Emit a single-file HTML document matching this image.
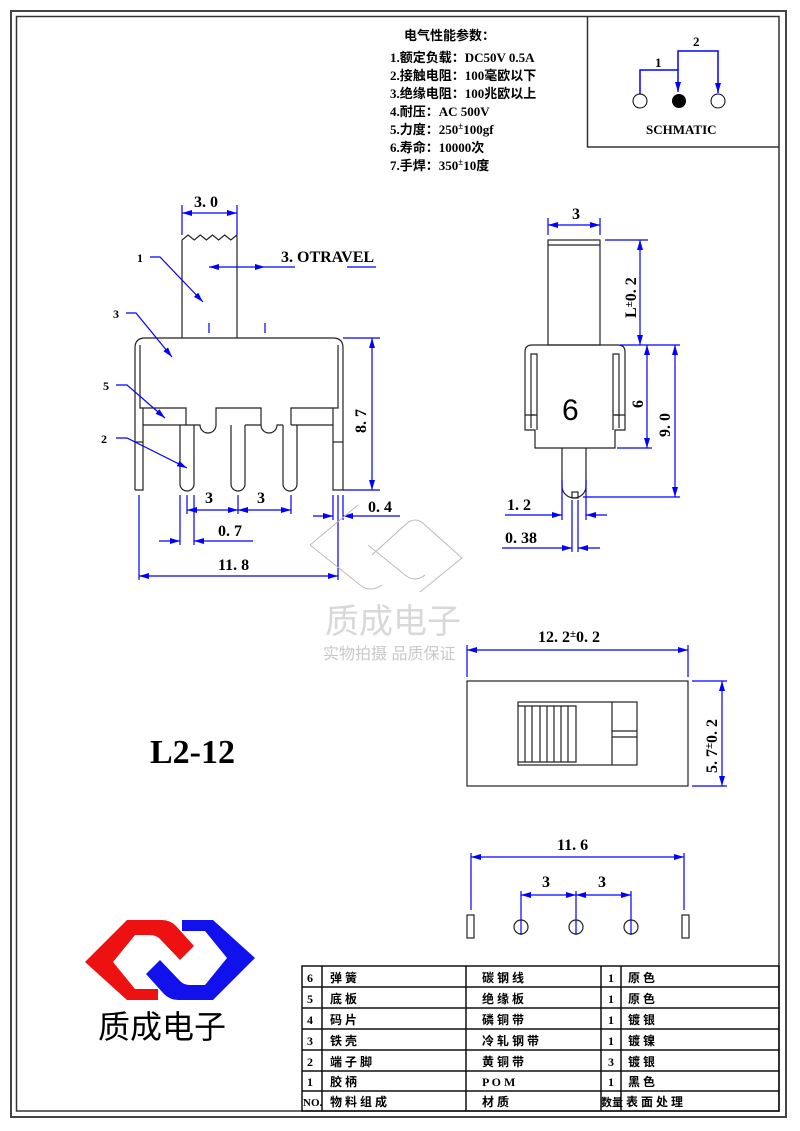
<!DOCTYPE html>
<html><head><meta charset="utf-8"><style>
html,body{margin:0;padding:0;background:#fff}
svg{display:block}
.t{font-family:"Liberation Serif","Noto Serif CJK SC",serif;font-weight:bold;fill:#000}
.c{font-family:"Liberation Serif","Noto Sans CJK SC",serif;font-weight:bold;fill:#000}
</style></head><body>
<svg width="800" height="1131" viewBox="0 0 800 1131" xmlns="http://www.w3.org/2000/svg">
<defs>
<marker id="a" viewBox="0 0 10 6" refX="10" refY="3" markerWidth="10" markerHeight="6" orient="auto-start-reverse" markerUnits="userSpaceOnUse"><path d="M0,0L10,3L0,6z" fill="#0000ff"/></marker>
</defs>
<rect x="11" y="11" width="775" height="1106" fill="none" stroke="#444" stroke-width="2"/>
<rect x="16.5" y="16.5" width="762.5" height="1094.5" fill="none" stroke="#333" stroke-width="1.5"/>

<g class="c" font-size="13">
<text x="404" y="40">电气性能参数：</text>
<text x="390" y="62">1.额定负载：DC50V 0.5A</text>
<text x="390" y="80">2.接触电阻：100毫欧以下</text>
<text x="390" y="98">3.绝缘电阻：100兆欧以上</text>
<text x="390" y="116">4.耐压：AC 500V</text>
<text x="390" y="134">5.力度：250<tspan font-size="9" dy="-5">±</tspan><tspan dy="5">100gf</tspan></text>
<text x="390" y="152">6.寿命：10000次</text>
<text x="390" y="170">7.手焊：350<tspan font-size="9" dy="-5">±</tspan><tspan dy="5">10度</tspan></text>
</g>

<line x1="587.5" y1="16" x2="587.5" y2="147" stroke="#333" stroke-width="1.5"/>
<line x1="587" y1="147" x2="779" y2="147" stroke="#333" stroke-width="1.5"/>
<g stroke="#0000ff" stroke-width="1.5" fill="none">
<polyline points="640,94 640,70 678,70 678,92" marker-end="url(#a)"/>
<polyline points="678,70 678,51 718,51 718,93" marker-end="url(#a)"/>
</g>
<circle cx="640" cy="101" r="7" fill="#fff" stroke="#000"/>
<circle cx="679" cy="101" r="7" fill="#000"/>
<circle cx="718" cy="101" r="7" fill="#fff" stroke="#000"/>
<text class="t" x="655" y="67" font-size="13">1</text>
<text class="t" x="693" y="46" font-size="13">2</text>
<text class="t" x="646" y="134" font-size="13">SCHMATIC</text>

<g stroke="#222" stroke-width="1.2" fill="none">
<path d="M182,338 L182,240 l6.1,-5 l6.1,5 l6.1,-5 l6.1,5 l6.1,-5 l6.1,5 l6.1,-5 l6.1,5 l6.1,-5 L237,240 L237,338"/>
<path d="M135,490 L135,348 Q135,338 145,338 L333,338 Q343,338 343,348 L343,490 L333,490 L333,408 L338,408 L338,345 M135,490 L143,490 L143,408 L140,408 L140,345"/>
<line x1="135" y1="442" x2="143" y2="442"/>
<line x1="333" y1="442" x2="343" y2="442"/>
<path d="M143,408 L186,408 L186,425 L143,425 M216,425 L216,408 L261,408 L261,425 M291,425 L291,408 L333,408 M291,425 L333,425"/>
<path d="M186,425 L200,425 A8,8 0 0 0 216,425 M245,425 L261,425 M261,425 A7,7 0 0 0 277,425 L283,425"/>
<path d="M180,425 L180,484 A7,7 0 0 0 194,484 L194,425"/>
<path d="M231,425 L231,484 A7,7 0 0 0 245,484 L245,425"/>
<path d="M283,425 L283,484 A7,7 0 0 0 297,484 L297,425"/>
</g>
<g stroke="#0000ff" stroke-width="1.2" fill="none">
<line x1="182" y1="205" x2="182" y2="235"/><line x1="237" y1="205" x2="237" y2="235"/>
<line x1="182" y1="213" x2="237" y2="213" marker-start="url(#a)" marker-end="url(#a)"/>
<line x1="209" y1="267" x2="265" y2="267" marker-start="url(#a)" marker-end="url(#a)"/>
<line x1="265" y1="267" x2="295" y2="267"/><line x1="347" y1="267" x2="376" y2="267"/>
<line x1="209" y1="323" x2="209" y2="333"/><line x1="265" y1="323" x2="265" y2="333"/>
<polyline points="150,257 160,257 203,302" marker-end="url(#a)"/>
<polyline points="126,313 136,313 172,357" marker-end="url(#a)"/>
<polyline points="116,385 127,385 165,418" marker-end="url(#a)"/>
<polyline points="116,438 127,438 187,468" marker-end="url(#a)"/>
<line x1="343" y1="338" x2="380" y2="338"/>
<line x1="343" y1="490" x2="380" y2="490"/>
<line x1="372" y1="338" x2="372" y2="490" marker-start="url(#a)" marker-end="url(#a)"/>
<line x1="187" y1="495" x2="187" y2="514"/><line x1="238" y1="495" x2="238" y2="514"/><line x1="291" y1="495" x2="291" y2="514"/>
<line x1="187" y1="510" x2="238" y2="510" marker-start="url(#a)" marker-end="url(#a)"/>
<line x1="238" y1="510" x2="291" y2="510" marker-start="url(#a)" marker-end="url(#a)"/>
<line x1="180" y1="495" x2="180" y2="545"/><line x1="194" y1="495" x2="194" y2="545"/>
<line x1="159" y1="541" x2="180" y2="541" marker-end="url(#a)"/>
<line x1="253" y1="541" x2="194" y2="541" marker-end="url(#a)"/>
<line x1="139" y1="495" x2="139" y2="580"/><line x1="338" y1="495" x2="338" y2="580"/>
<line x1="333" y1="495" x2="333" y2="520"/><line x1="343" y1="495" x2="343" y2="520"/>
<line x1="139" y1="576" x2="338" y2="576" marker-start="url(#a)" marker-end="url(#a)"/>
<line x1="313" y1="516" x2="333" y2="516" marker-end="url(#a)"/>
<line x1="400" y1="516" x2="343" y2="516" marker-end="url(#a)"/>
</g>
<g class="t" font-size="16">
<text x="194" y="207">3. 0</text>
<text x="281" y="262">3. OTRAVEL</text>
<text x="137" y="262" font-size="12">1</text>
<text x="113" y="318" font-size="12">3</text>
<text x="103" y="390" font-size="12">5</text>
<text x="101" y="443" font-size="12">2</text>
<text x="205" y="503">3</text>
<text x="257" y="503">3</text>
<text x="218" y="536">0. 7</text>
<text x="218" y="570">11. 8</text>
<text x="368" y="512">0. 4</text>
<text transform="translate(366,433) rotate(-90)">8. 7</text>
</g>

<g stroke="#222" stroke-width="1.2" fill="none">
<rect x="548" y="240" width="52" height="105"/>
<line x1="548" y1="245" x2="600" y2="245"/>
<path d="M535,448 L535,430 L525,430 L525,352 Q525,345 532,345 L618,345 Q625,345 625,352 L625,430 L615,430 L615,448 Z"/>
<path d="M531,354 L537,354 L537,415 L531,415 Z M531,415 L531,428 M537,415 L537,430"/>
<path d="M613,354 L619,354 L619,415 L613,415 Z M619,415 L619,428 M613,415 L613,430"/>
<path d="M525,415 L535,415 M615,415 L625,415"/>
<path d="M562,448 L562,486 A12,12 0 0 0 586,486 L586,448"/>
<rect x="572" y="492" width="6" height="6"/>
</g>
<text x="562" y="420" font-family="Liberation Sans,sans-serif" font-size="30" fill="#000">6</text>
<g stroke="#0000ff" stroke-width="1.2" fill="none">
<line x1="548" y1="218" x2="548" y2="235"/><line x1="600" y1="218" x2="600" y2="235"/>
<line x1="548" y1="225" x2="600" y2="225" marker-start="url(#a)" marker-end="url(#a)"/>
<line x1="605" y1="240" x2="648" y2="240"/>
<line x1="640" y1="240" x2="640" y2="345" marker-start="url(#a)" marker-end="url(#a)"/>
<line x1="620" y1="345" x2="680" y2="345"/>
<line x1="617" y1="448" x2="652" y2="448"/>
<line x1="647" y1="345" x2="647" y2="448" marker-start="url(#a)" marker-end="url(#a)"/>
<line x1="583" y1="497" x2="680" y2="497"/>
<line x1="675" y1="345" x2="675" y2="497" marker-start="url(#a)" marker-end="url(#a)"/>
<line x1="562" y1="480" x2="562" y2="520"/><line x1="586" y1="480" x2="586" y2="520"/>
<line x1="505" y1="515" x2="562" y2="515" marker-end="url(#a)"/>
<line x1="607" y1="515" x2="586" y2="515" marker-end="url(#a)"/>
<line x1="572" y1="500" x2="572" y2="552"/><line x1="578" y1="500" x2="578" y2="552"/>
<line x1="502" y1="548" x2="572" y2="548" marker-end="url(#a)"/>
<line x1="600" y1="548" x2="578" y2="548" marker-end="url(#a)"/>
</g>
<g class="t" font-size="16">
<text x="572" y="219">3</text>
<text transform="translate(636,318) rotate(-90)">L<tspan font-size="11" dy="-4">±</tspan><tspan dy="4">0. 2</tspan></text>
<text transform="translate(643,408) rotate(-90)">6</text>
<text transform="translate(670,437) rotate(-90)">9. 0</text>
<text x="507" y="510">1. 2</text>
<text x="505" y="543">0. 38</text>
</g>

<g stroke="#bbb" stroke-width="1" fill="none">
<path d="M310,545 L358,505 M310,545 L360,585 Q370,593 382,585 M372,555 L405,525 Q415,515 425,525 L462,558 L420,592"/>
<path d="M368,545 L405,575 M405,575 Q415,583 425,575"/>
</g>
<text x="325" y="633" font-family="Liberation Sans,Noto Sans CJK SC,sans-serif" font-size="34" fill="#d8d8d8">质成电子</text>
<text x="323" y="659" font-family="Liberation Sans,Noto Sans CJK SC,sans-serif" font-size="16" fill="#c8c8c8">实物拍摄 品质保证</text>

<g stroke="#222" stroke-width="1.2" fill="none">
<rect x="467" y="681" width="221" height="105"/>
<rect x="518" y="702" width="119" height="63"/>
<path d="M518,706 L576,706 L576,762 L518,762"/>
<path d="M525,706 V762 M532,706 V762 M540,706 V762 M547,706 V762 M554,706 V762 M561,706 V762 M568,706 V762"/>
<path d="M612,702 V765 M612,731 H637 M612,737 H637"/>
</g>
<g stroke="#0000ff" stroke-width="1.2" fill="none">
<line x1="467" y1="645" x2="467" y2="677"/><line x1="688" y1="645" x2="688" y2="677"/>
<line x1="467" y1="650" x2="688" y2="650" marker-start="url(#a)" marker-end="url(#a)"/>
<line x1="692" y1="681" x2="727" y2="681"/><line x1="692" y1="786" x2="727" y2="786"/>
<line x1="722" y1="681" x2="722" y2="786" marker-start="url(#a)" marker-end="url(#a)"/>
</g>
<g class="t" font-size="16">
<text x="538" y="642">12. 2<tspan font-size="11" dy="-5">±</tspan><tspan dy="5">0. 2</tspan></text>
<text transform="translate(717,773) rotate(-90)">5. 7<tspan font-size="11" dy="-5">±</tspan><tspan dy="5">0. 2</tspan></text>
</g>

<g stroke="#0000ff" stroke-width="1.2" fill="none">
<line x1="471" y1="853" x2="471" y2="910"/><line x1="684" y1="853" x2="684" y2="910"/>
<line x1="471" y1="857" x2="684" y2="857" marker-start="url(#a)" marker-end="url(#a)"/>
<line x1="521" y1="891" x2="521" y2="935"/><line x1="576" y1="891" x2="576" y2="935"/><line x1="631" y1="891" x2="631" y2="935"/>
<line x1="521" y1="895" x2="576" y2="895" marker-start="url(#a)" marker-end="url(#a)"/>
<line x1="576" y1="895" x2="631" y2="895" marker-start="url(#a)" marker-end="url(#a)"/>
</g>
<g stroke="#222" stroke-width="1.2" fill="none">
<rect x="467" y="915" width="7" height="23"/><rect x="682" y="915" width="7" height="23"/>
<circle cx="521" cy="927" r="7"/><circle cx="576" cy="927" r="7"/><circle cx="631" cy="927" r="7"/>
</g>
<g class="t" font-size="16">
<text x="557" y="850">11. 6</text>
<text x="542" y="887">3</text><text x="598" y="887">3</text>
</g>

<text x="150" y="763" font-family="Liberation Serif,serif" font-weight="bold" font-size="34" fill="#000">L2-12</text>

<path d="M85,962 L127,920 L162,920 Q170,920 176,926 L194,946 L180,960 L160,939 Q156,935 150,935 L135,935 L113,962 L135,989 L158,989 L158,1000 L127,1000 Z" fill="#ee1111"/>
<path d="M255,958 L213,1000 L178,1000 Q170,1000 164,994 L146,974 L160,960 L180,981 Q184,985 190,985 L205,985 L227,958 L205,931 L182,931 L182,920 L213,920 Z" fill="#1111ee"/>
<text x="98" y="1038" font-family="Liberation Sans,Noto Sans CJK SC,sans-serif" font-size="32" fill="#000">质成电子</text>

<g stroke="#111" stroke-width="1.5" fill="none">
<rect x="302" y="966" width="477" height="145"/>
<path d="M302,987H779 M302,1008H779 M302,1029H779 M302,1050H779 M302,1071H779 M302,1091H779"/>
<path d="M322,966V1111 M466,966V1111 M601,966V1111 M621,966V1111"/>
</g>
<g class="c" font-size="12">
<text x="307" y="982">6</text><text x="330" y="982">弹 簧</text><text x="482" y="982">碳 钢 线</text><text x="608" y="982">1</text><text x="628" y="982">原 色</text>
<text x="307" y="1003">5</text><text x="330" y="1003">底 板</text><text x="482" y="1003">绝 缘 板</text><text x="608" y="1003">1</text><text x="628" y="1003">原 色</text>
<text x="307" y="1024">4</text><text x="330" y="1024">码 片</text><text x="482" y="1024">磷 铜 带</text><text x="608" y="1024">1</text><text x="628" y="1024">镀 银</text>
<text x="307" y="1045">3</text><text x="330" y="1045">铁 壳</text><text x="482" y="1045">冷 轧 钢 带</text><text x="608" y="1045">1</text><text x="628" y="1045">镀 镍</text>
<text x="307" y="1066">2</text><text x="330" y="1066">端 子 脚</text><text x="482" y="1066">黄 铜 带</text><text x="608" y="1066">3</text><text x="628" y="1066">镀 银</text>
<text x="307" y="1086">1</text><text x="330" y="1086">胶 柄</text><text x="482" y="1086">P O M</text><text x="608" y="1086">1</text><text x="628" y="1086">黑 色</text>
<text x="303" y="1106" font-size="11">NO.</text><text x="330" y="1106">物 料 组 成</text><text x="482" y="1106">材 质</text><text x="601" y="1106" font-size="11">数量</text><text x="626" y="1106">表 面 处 理</text>
</g>
</svg>
</body></html>
